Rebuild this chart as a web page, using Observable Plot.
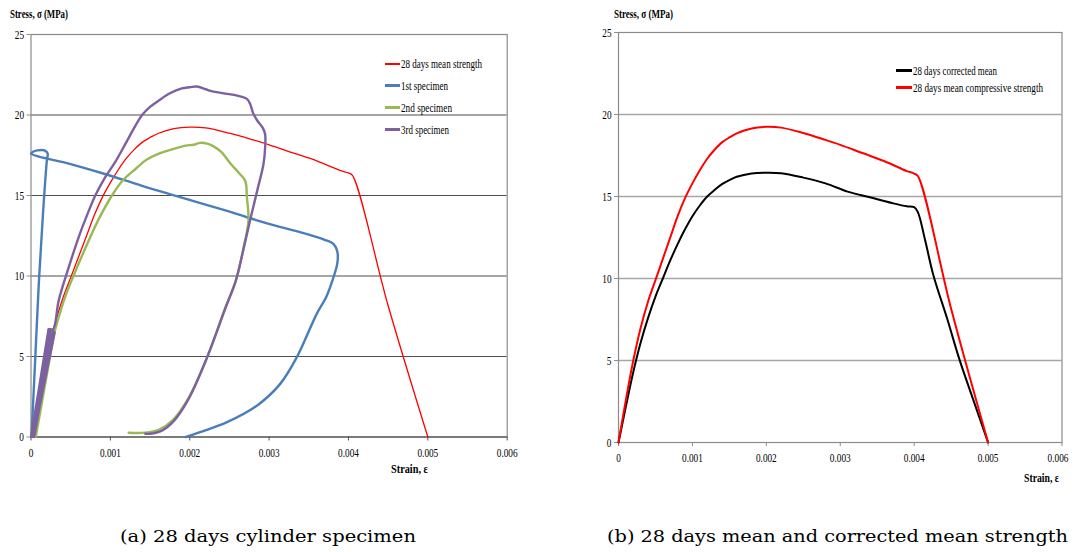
<!DOCTYPE html>
<html><head><meta charset="utf-8">
<script src="https://cdn.jsdelivr.net/npm/d3@7"></script>
<script src="https://cdn.jsdelivr.net/npm/@observablehq/plot@0.6"></script>
<style>
body{margin:0;background:#fff;}
#root{position:relative;width:1077px;height:552px;overflow:hidden;background:#fff;}
#root svg{position:absolute;top:0;}
.lbl{position:absolute;white-space:nowrap;transform-origin:0 50%;line-height:1;font-family:"Liberation Serif","Times New Roman",Times,serif;color:#000;}
.sw{position:absolute;}
</style></head><body><div id="root"></div>
<script>
// ---- ticks ----
const xTicks = [0, 0.001, 0.002, 0.003, 0.004, 0.005, 0.006];
const xTickLabels = ["0", "0.001", "0.002", "0.003", "0.004", "0.005", "0.006"];
const yTicks = [0, 5, 10, 15, 20, 25];
const yTickLabels = ["0", "5", "10", "15", "20", "25"];
const gridValues = [5, 10, 15, 20];

// ---- series names ----
const leftSeries = ["28 days mean strength", "1st specimen", "2nd specimen", "3rd specimen"];
const rightSeries = ["28 days corrected mean", "28 days mean compressive strength"];

// ---- 28 days mean strength (also used in panel b) ----
const meanStrain = [0, 0.0001, 0.0002, 0.0003, 0.0004, 0.0005, 0.0006, 0.0007, 0.0008, 0.0009, 0.001, 0.0011, 0.0012, 0.0013, 0.0014, 0.0015, 0.0016, 0.0018, 0.002, 0.0022, 0.0025, 0.0028, 0.003, 0.0033, 0.0036, 0.0039, 0.004, 0.00405, 0.0045, 0.005];
const meanStress = [0, 2.6, 5.0, 7.0, 8.6, 9.9, 11.2, 12.5, 13.8, 14.9, 15.8, 16.6, 17.3, 17.85, 18.3, 18.6, 18.85, 19.15, 19.25, 19.2, 18.87, 18.45, 18.15, 17.65, 17.15, 16.55, 16.4, 16.25, 8.15, 0];

// ---- 1st specimen ----
const spec1Strain = [0.000006, 0.00005, 0.0001, 0.00015, 0.0002, 0.00021, 0.00017, 0.00008, 0.00002, 0, 0.0005, 0.00092, 0.0014, 0.00188, 0.00245, 0.00272, 0.0031, 0.00348, 0.0037, 0.00381, 0.00386, 0.00386, 0.00381, 0.00372, 0.0036, 0.00335, 0.00314, 0.00285, 0.00247, 0.00213, 0.00195];
const spec1Stress = [0, 4.5, 9.7, 13.8, 17.2, 17.6, 17.8, 17.8, 17.7, 17.6, 16.95, 16.35, 15.6, 14.9, 14.07, 13.65, 13.1, 12.6, 12.25, 12.0, 11.5, 10.8, 9.9, 8.7, 7.65, 4.96, 3.3, 1.96, 0.92, 0.3, 0];

// ---- 2nd specimen (first 3 points: overlapping loading cycles near the origin) ----
const spec2Strain = [0.00003, 0.00029, 0.00006, 0.00018, 0.00029, 0.00043, 0.00056, 0.0007, 0.00085, 0.00102, 0.00115, 0.00132, 0.00145, 0.00161, 0.0018, 0.00195, 0.00205, 0.00213, 0.00222, 0.0023, 0.0024, 0.00251, 0.00262, 0.0027, 0.00272, 0.00274, 0.00268, 0.00258, 0.00245, 0.00222, 0.00199, 0.00178, 0.00161, 0.00144, 0.00123];
const spec2Stress = [0, 6.4, 0, 4.1, 6.4, 8.7, 10.3, 11.9, 13.5, 15.0, 15.9, 16.66, 17.2, 17.6, 17.9, 18.1, 18.15, 18.27, 18.22, 18.05, 17.7, 17.0, 16.4, 15.9, 14.9, 13.45, 11.8, 9.7, 8.06, 4.96, 2.47, 1.02, 0.45, 0.27, 0.26];
const spec2Cycles = 3;

// ---- 3rd specimen (first 10 points: overlapping loading cycles near the origin) ----
const spec3Strain = [0, 0.00022, 0.00002, 0.00025, 0.00004, 0.00028, 0.00003, 0.0003, 0.00001, 0.00024, 0.00028, 0.00035, 0.00046, 0.0006, 0.0007, 0.00081, 0.00093, 0.00106, 0.0012, 0.0013, 0.0014, 0.0015, 0.00161, 0.00175, 0.0019, 0.002, 0.00209, 0.0022, 0.0023, 0.00245, 0.0026, 0.00272, 0.00276, 0.0028, 0.00285, 0.00292, 0.00295, 0.00295, 0.00293, 0.00285, 0.00276, 0.00267, 0.00258, 0.00245, 0.00222, 0.00199, 0.0018, 0.00165, 0.0015, 0.00144];
const spec3Stress = [0, 6.7, 0, 6.6, 0, 6.6, 0, 6.5, 0, 6.7, 6.7, 8.5, 10.3, 12.4, 13.7, 15.0, 16.1, 17.07, 18.3, 19.2, 20.0, 20.5, 20.9, 21.35, 21.65, 21.72, 21.77, 21.6, 21.45, 21.33, 21.2, 21.0, 20.7, 20.1, 19.66, 19.2, 18.8, 18.0, 16.97, 15.3, 13.45, 11.5, 9.7, 8.0, 4.96, 2.4, 1.0, 0.4, 0.2, 0.2];
const spec3Cycles = 10;

// ---- 28 days corrected mean ----
const corrStrain = [0, 0.0001, 0.0002, 0.0003, 0.0004, 0.0005, 0.0006, 0.0007, 0.0008, 0.0009, 0.001, 0.0011, 0.0012, 0.0013, 0.0014, 0.0015, 0.0016, 0.0018, 0.002, 0.0022, 0.0025, 0.0028, 0.0031, 0.0034, 0.0037, 0.0039, 0.004, 0.00405, 0.00415, 0.00426, 0.00445, 0.00461, 0.0048, 0.005];
const corrStress = [0, 2.2, 4.3, 6.1, 7.6, 8.9, 10.0, 11.1, 12.1, 13.0, 13.8, 14.45, 15.0, 15.4, 15.75, 16.0, 16.2, 16.4, 16.45, 16.42, 16.15, 15.8, 15.3, 14.95, 14.6, 14.4, 14.35, 14.05, 12.3, 10.2, 7.5, 5.1, 2.6, 0];

const rows = (xs, ys) => xs.map((x, i) => ({strain: x, stress: ys[i]}));

const root = document.getElementById("root");
const xFmt = d => xTickLabels[xTicks.indexOf(d)];
const yFmt = d => yTickLabels[yTicks.indexOf(d)];
const serif = '"Liberation Serif", "Times New Roman", Times, serif';
const baseStyle = {fontFamily: serif, fontSize: "12.5px", color: "#000", background: "transparent", overflow: "visible"};
const smooth = "catmull-rom";

const s2 = rows(spec2Strain, spec2Stress);
const s3 = rows(spec3Strain, spec3Stress);

const left = Plot.plot({
  width: 540, height: 480,
  marginLeft: 30.5, marginRight: 33.3, marginTop: 34, marginBottom: 43.5,
  x: {domain: [0, 0.006]}, y: {domain: [0, 25]},
  style: baseStyle,
  marks: [
    Plot.gridY(gridValues, {stroke: "#4d4d4d", strokeOpacity: 1, strokeWidth: 1.2}),
    Plot.frame({stroke: "#8c8c8c", strokeWidth: 1.2}),
    Plot.ruleY([0], {stroke: "#3c3c3c", strokeWidth: 1.2}),
    Plot.axisX(xTicks, {tickSize: 4, tickPadding: 7, tickFormat: xFmt, label: null, stroke: "#555"}),
    Plot.axisY(yTicks, {tickSize: 4, tickPadding: 3, tickFormat: yFmt, label: null, stroke: "#8c8c8c"}),
    Plot.line(rows(meanStrain, meanStress), {x: "strain", y: "stress", stroke: "#ff0000", strokeWidth: 1.3, curve: smooth}),
    Plot.line(rows(spec1Strain, spec1Stress), {x: "strain", y: "stress", stroke: "#4a7ebb", strokeWidth: 2.4, curve: smooth}),
    Plot.line(s2.slice(0, spec2Cycles), {x: "strain", y: "stress", stroke: "#98b954", strokeWidth: 2.4}),
    Plot.line(s2.slice(spec2Cycles), {x: "strain", y: "stress", stroke: "#98b954", strokeWidth: 2.4, curve: smooth}),
    Plot.line(s3.slice(0, spec3Cycles), {x: "strain", y: "stress", stroke: "#7d60a0", strokeWidth: 2.2}),
    Plot.line(s3.slice(spec3Cycles - 1), {x: "strain", y: "stress", stroke: "#7d60a0", strokeWidth: 2.4, curve: smooth})
  ]
});
left.style.left = "0px";
root.appendChild(left);

const right = Plot.plot({
  width: 537, height: 480,
  marginLeft: 78, marginRight: 15.5, marginTop: 32, marginBottom: 38,
  x: {domain: [0, 0.006]}, y: {domain: [0, 25]},
  style: baseStyle,
  marks: [
    Plot.gridY(gridValues, {stroke: "#a6a6a6", strokeOpacity: 1, strokeWidth: 1.3}),
    Plot.frame({stroke: "#8c8c8c", strokeWidth: 1.2}),
    Plot.axisX(xTicks, {tickSize: 4, tickPadding: 7, tickFormat: xFmt, label: null, stroke: "#8c8c8c"}),
    Plot.axisY(yTicks, {tickSize: 4, tickPadding: 3, tickFormat: yFmt, label: null, stroke: "#8c8c8c"}),
    Plot.line(rows(corrStrain, corrStress), {x: "strain", y: "stress", stroke: "#000000", strokeWidth: 2, curve: smooth}),
    Plot.line(rows(meanStrain, meanStress), {x: "strain", y: "stress", stroke: "#ff0000", strokeWidth: 2, curve: smooth})
  ]
});
right.style.left = "540px";
root.appendChild(right);

// compress tick labels horizontally (the source figure is squeezed)
for (const svg of [left, right]) {
  svg.querySelectorAll('g[aria-label$="tick label"] text').forEach(t => {
    const w = t.getComputedTextLength();
    t.setAttribute("textLength", (w * 0.74).toFixed(2));
    t.setAttribute("lengthAdjust", "spacingAndGlyphs");
  });
}
// keep the last x label of panel (b) clear of the window edge
right.querySelectorAll('g[aria-label="x-axis tick label"] text').forEach(t => {
  if (t.textContent === xTickLabels[xTickLabels.length - 1]) t.setAttribute("dx", "-4");
});

function label(text, x, cy, width, size, opts = {}) {
  const d = document.createElement("div");
  d.className = "lbl";
  d.textContent = text;
  d.style.fontSize = size + "px";
  if (opts.bold) d.style.fontWeight = "bold";
  if (opts.font) d.style.fontFamily = opts.font;
  root.appendChild(d);
  const r = d.getBoundingClientRect();
  d.style.left = x + "px";
  d.style.top = (cy - r.height / 2) + "px";
  d.style.transform = `scaleX(${width / r.width})`;
}
function swatch(x, y, w, color, thick) {
  const s = document.createElement("div");
  s.className = "sw";
  s.style.left = x + "px";
  s.style.top = Math.round(y - thick / 2) + "px";
  s.style.width = w + "px";
  s.style.height = thick + "px";
  s.style.background = color;
  root.appendChild(s);
}

// axis titles
label("Stress, σ (MPa)", 10, 14.5, 58, 12.5, {bold: true});
label("Stress, σ (MPa)", 614, 14.5, 59, 12.5, {bold: true});
label("Strain, ε", 391, 469.5, 37, 12.5, {bold: true});
label("Strain, ε", 1024, 478, 35, 12.5, {bold: true});

// legend (a)
const leftColors = ["#ff0000", "#4a7ebb", "#98b954", "#7d60a0"];
const leftRowsY = [63.5, 85, 107, 129.5];
const leftWidths = [81, 47, 51, 48];
leftSeries.forEach((s, i) => {
  swatch(385, leftRowsY[i], 15, leftColors[i], i === 0 ? 2 : 3);
  label(s, 401, leftRowsY[i], leftWidths[i], 13);
});

// legend (b)
const rightColors = ["#000000", "#ff0000"];
const rightRowsY = [70.7, 87.3];
const rightWidths = [84, 130];
rightSeries.forEach((s, i) => {
  swatch(896, rightRowsY[i], 16, rightColors[i], 3);
  label(s, 913, rightRowsY[i], rightWidths[i], 13);
});

// captions
label("(a)  28 days cylinder specimen", 120, 537, 296, 16, {font: "DejaVu Serif, serif"});
label("(b)  28 days mean and corrected mean strength", 607, 537, 461, 16, {font: "DejaVu Serif, serif"});
</script></body></html>
